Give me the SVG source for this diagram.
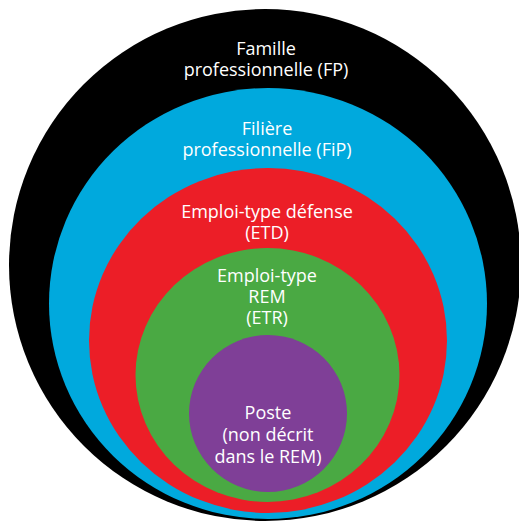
<svg xmlns="http://www.w3.org/2000/svg" width="519" height="521" viewBox="0 0 519 521">
  <style>
    .lbl { font-family: "Open Sans", "Noto Sans", "Liberation Sans", sans-serif; font-size: 18px; fill: #ffffff; text-anchor: middle; }
  </style>
  <rect width="519" height="521" fill="#ffffff"/>
  <g id="famille">
    <ellipse cx="265" cy="265" rx="256" ry="256" fill="#000000"/>
    <text class="lbl" x="266" y="55">Famille</text>
    <text class="lbl" x="266" y="76">professionnelle (FP)</text>
  </g>
  <g id="filiere">
    <ellipse cx="268" cy="303.5" rx="219" ry="215.5" fill="#00A9DD"/>
    <text class="lbl" x="267" y="135">Filière</text>
    <text class="lbl" x="267" y="156">professionnelle (FiP)</text>
  </g>
  <g id="emploi-type-defense">
    <ellipse cx="268" cy="340.5" rx="179" ry="172.5" fill="#EC1E27"/>
    <text class="lbl" x="267" y="218">Emploi-type défense</text>
    <text class="lbl" x="267" y="239">(ETD)</text>
  </g>
  <g id="emploi-type-rem">
    <ellipse cx="267.5" cy="375" rx="132" ry="127" fill="#4AA943"/>
    <text class="lbl" x="267" y="282">Emploi-type</text>
    <text class="lbl" x="267" y="303">REM</text>
    <text class="lbl" x="267" y="324">(ETR)</text>
  </g>
  <g id="poste">
    <ellipse cx="268" cy="413.5" rx="79" ry="78.5" fill="#7F3F97"/>
    <text class="lbl" x="268" y="419">Poste</text>
    <text class="lbl" x="268" y="441">(non décrit</text>
    <text class="lbl" x="268" y="463">dans le REM)</text>
  </g>
  <g id="connectors"/>
</svg>
